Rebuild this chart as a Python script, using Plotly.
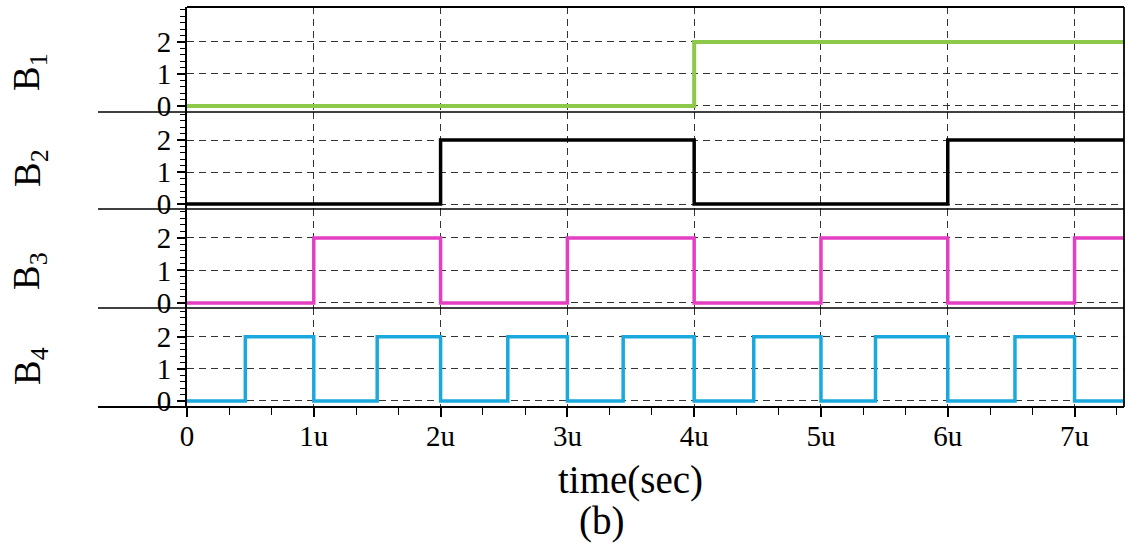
import plotly.graph_objects as go
from plotly.subplots import make_subplots

# ---- data (time in microseconds, logic levels) ----
x_end = 7.39
b1_t = [0, 4, 7.39]
b1_v = [0, 2, 2]
b2_t = [0, 2, 4, 6, 7.39]
b2_v = [0, 2, 0, 2, 2]
b3_t = [0, 1, 2, 3, 4, 5, 6, 7, 7.39]
b3_v = [0, 2, 0, 2, 0, 2, 0, 2, 2]
b4_t = [0, 0.46, 1, 1.5, 2, 2.53, 3, 3.44, 4, 4.47, 5, 5.43, 6, 6.53, 7, 7.39]
b4_v = [0, 2, 0, 2, 0, 2, 0, 2, 0, 2, 0, 2, 0, 2, 0, 0]

x_tickvals = [0, 1, 2, 3, 4, 5, 6, 7]
x_ticktext = ["0", "1u", "2u", "3u", "4u", "5u", "6u", "7u"]
y_tickvals = [0, 1, 2]
y_ticktext = ["0", "1", "2"]

names = ["B<sub>1</sub>", "B<sub>2</sub>", "B<sub>3</sub>", "B<sub>4</sub>"]
colors = ["#8DC84B", "#000000", "#E43FC3", "#1BA9DD"]
widths = [4, 3.5, 3.5, 3.5]
series = [(b1_t, b1_v), (b2_t, b2_v), (b3_t, b3_v), (b4_t, b4_v)]

domains = [[0.7375, 1.0], [0.495, 0.7375], [0.2475, 0.495], [0.0, 0.2475]]
ranges = [[-0.19, 3.09], [-0.156, 2.875], [-0.154, 2.89], [-0.19, 2.90]]
label_y = [0.8375, 0.5975, 0.34, 0.1025]

FONT = "Liberation Serif"

fig = make_subplots(rows=4, cols=1, shared_xaxes=True, vertical_spacing=0)

for i, ((t, v), c, w) in enumerate(zip(series, colors, widths)):
    fig.add_trace(go.Scatter(x=t, y=v, mode="lines", line=dict(color=c, width=w, shape="hv"),
                             showlegend=False, hoverinfo="skip"), row=i + 1, col=1)

grid_kw = dict(showgrid=True, gridcolor="#333333", gridwidth=1, griddash="7px,5px")

for i in range(4):
    yname = "yaxis" if i == 0 else f"yaxis{i+1}"
    fig.layout[yname].update(
        domain=domains[i], range=ranges[i], tickvals=y_tickvals, ticktext=y_ticktext,
        ticks="outside", ticklen=8, tickwidth=1.5, tickcolor="black",
        showline=True, linecolor="black", linewidth=2, zeroline=False,
        tickfont=dict(family=FONT, size=29, color="black"),
        minor=dict(dtick=0.2, tick0=0, ticks="outside", ticklen=5, tickcolor="black", tickwidth=1, showgrid=False),
        **grid_kw)
    xname = "xaxis" if i == 0 else f"xaxis{i+1}"
    fig.layout[xname].update(
        range=[0, x_end], tickvals=x_tickvals, ticktext=x_ticktext, zeroline=False,
        showline=False, **grid_kw)

fig.layout["xaxis4"].update(
    ticks="outside", ticklen=9, tickwidth=1.5, tickcolor="black",
    tickfont=dict(family=FONT, size=29, color="black"), showticklabels=True,
    ticklabelstandoff=-6,
    minor=dict(dtick=1/3, tick0=0, ticks="outside", ticklen=7, tickcolor="black", tickwidth=1.2, showgrid=False))

shapes = []
# panel separators extended to the left
for d in domains[:3]:
    shapes.append(dict(type="line", xref="paper", yref="paper", x0=-0.095, x1=1, y0=d[0], y1=d[0],
                       line=dict(color="black", width=1.5)))
# bottom axis line
shapes.append(dict(type="line", xref="paper", yref="paper", x0=-0.095, x1=1, y0=0, y1=0,
                   line=dict(color="black", width=2.2)))
# top and right border
shapes.append(dict(type="line", xref="paper", yref="paper", x0=0, x1=1, y0=1, y1=1,
                   line=dict(color="black", width=2.2)))
shapes.append(dict(type="line", xref="paper", yref="paper", x0=1, x1=1, y0=0, y1=1,
                   line=dict(color="black", width=1.8)))

annotations = []
for n, ly in zip(names, label_y):
    annotations.append(dict(text=n, xref="paper", yref="paper", x=-0.1676, y=ly, xanchor="center",
                            yanchor="middle", textangle=-90, showarrow=False,
                            font=dict(family=FONT, size=37, color="black")))
annotations.append(dict(text="time(sec)", xref="paper", yref="paper", x=0.4728, y=-0.1825,
                        xanchor="center", yanchor="middle", showarrow=False,
                        font=dict(family=FONT, size=39, color="black")))
annotations.append(dict(text="(b)", xref="paper", yref="paper", x=0.4429, y=-0.285,
                        xanchor="center", yanchor="middle", showarrow=False,
                        font=dict(family=FONT, size=39, color="black")))

fig.update_layout(width=1130, height=543, margin=dict(l=187, r=6, t=7, b=136),
                  paper_bgcolor="white", plot_bgcolor="white",
                  shapes=shapes, annotations=annotations)

fig.write_html("out.html")
